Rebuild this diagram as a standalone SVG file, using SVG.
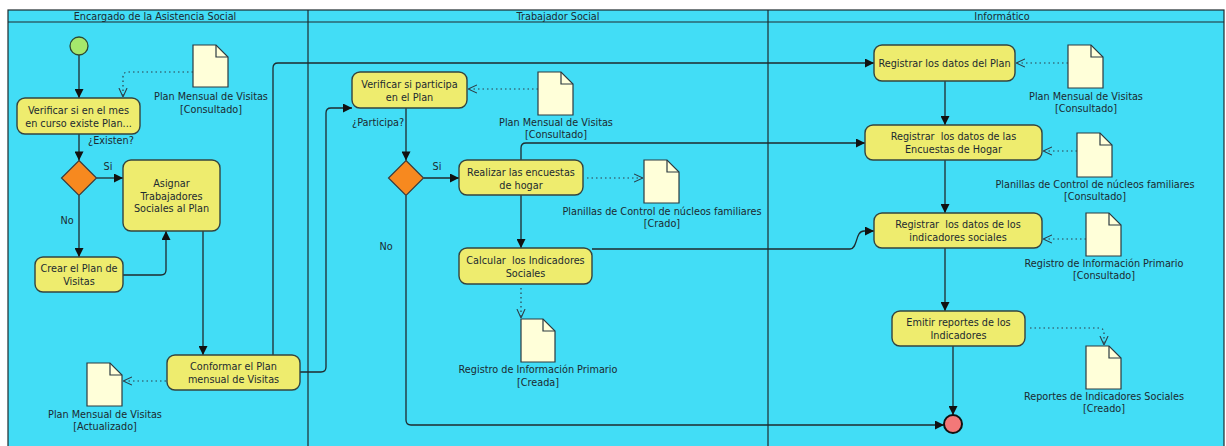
<svg xmlns="http://www.w3.org/2000/svg" width="1226" height="446" viewBox="0 0 1226 446">
  <style>
    text { font-family: "DejaVu Sans", "Liberation Sans", sans-serif; font-size: 9.7px; fill: #1c2a30; white-space: pre; }
    .mid { text-anchor: middle; }
    .lane { fill: #42DDF6; stroke: #1e2a2e; stroke-width: 1.2; }
    .act { fill: #EEEC6E; stroke: #34443f; stroke-width: 1.4; }
    .doc { fill: #FFFFD9; stroke: #2c3a40; stroke-width: 1.2; }
    .dec { fill: #F7891F; stroke: #3b3b3b; stroke-width: 1.2; }
    .flow { fill: none; stroke: #1f2a2e; stroke-width: 1.3; marker-end: url(#arrow); }
    .dep { fill: none; stroke: #2c3e48; stroke-width: 1.2; stroke-dasharray: 1.5 3; marker-end: url(#open); }
  </style>
  <defs>
    <marker id="arrow" viewBox="0 0 10 10" refX="10" refY="5" markerWidth="10" markerHeight="9" markerUnits="userSpaceOnUse" orient="auto">
      <path d="M0,0 L10,5 L0,10 z" fill="#111"/>
    </marker>
    <marker id="open" viewBox="0 0 10 10" refX="10" refY="5" markerWidth="9" markerHeight="11" markerUnits="userSpaceOnUse" orient="auto">
      <path d="M0,0.5 L10,5 L0,9.5" fill="none" stroke="#2c3e48" stroke-width="1.2"/>
    </marker>
  </defs>

  <rect width="1226" height="446" fill="#ffffff"/>

  <!-- swimlanes -->
  <g id="lanes">
    <rect class="lane" x="8" y="10" width="1216" height="446"/>
    <line x1="8" y1="22" x2="1224" y2="22" stroke="#1e2a2e" stroke-width="1.2"/>
    <line x1="308" y1="10" x2="308" y2="446" stroke="#1e2a2e" stroke-width="1.2"/>
    <line x1="768" y1="10" x2="768" y2="446" stroke="#1e2a2e" stroke-width="1.2"/>
    <text class="mid" x="155" y="20">Encargado de la Asistencia Social</text>
    <text class="mid" x="558" y="20">Trabajador Social</text>
    <text class="mid" x="1002" y="20">Informático</text>
  </g>

  <!-- control and object flows -->
  <g id="connectors">
    <path class="flow" d="M79,55 V98"/>
    <path class="flow" d="M79,134 V160.5"/>
    <path class="flow" d="M96.5,178 H123"/>
    <path class="flow" d="M79,195.5 V257"/>
    <path class="flow" d="M123,275 H161 Q166,275 166,270 V231"/>
    <path class="flow" d="M203,231 V355"/>
    <path class="flow" d="M273,355 V68 Q273,63 278,63 H874"/>
    <path class="flow" d="M300,372 H321 Q326,372 326,367 V113 Q326,108 331,108 H352"/>
    <path class="flow" d="M406,108 V160.5"/>
    <path class="flow" d="M423.5,178 H459"/>
    <path class="flow" d="M406,195.5 V420 Q406,425 411,425 H944"/>
    <path class="flow" d="M521,195 V248"/>
    <path class="flow" d="M521,160 V148 Q521,143 526,143 H865"/>
    <path class="flow" d="M592,249 H850 C858,249 855,231 864,231 H874"/>
    <path class="flow" d="M945,81 V125"/>
    <path class="flow" d="M945,160 V213"/>
    <path class="flow" d="M945,248 V311"/>
    <path class="flow" d="M953,346 V415"/>

    <path class="dep" d="M193,72 H128 Q123,72 123,77 V97"/>
    <path class="dep" d="M166,381 H123"/>
    <path class="dep" d="M538,89 H468"/>
    <path class="dep" d="M587,178 H643"/>
    <path class="dep" d="M521,288 V318"/>
    <path class="dep" d="M1068,63 H1016"/>
    <path class="dep" d="M1077,151 H1043"/>
    <path class="dep" d="M1086,239 H1043"/>
    <path class="dep" d="M1030,328 H1099 Q1104,328 1104,333 V345"/>
  </g>

  <!-- guard labels -->
  <g id="guards">
    <text x="88" y="144">¿Existen?</text>
    <text class="mid" x="108" y="170">Si</text>
    <text class="mid" x="67" y="224">No</text>
    <text x="352" y="126">¿Participa?</text>
    <text class="mid" x="437" y="170">Si</text>
    <text class="mid" x="386" y="250">No</text>
  </g>

  <!-- Encargado de la Asistencia Social -->
  <g id="start">
    <circle cx="79" cy="46" r="9" fill="#A5E86C" stroke="#2d4a33" stroke-width="1.3"/>
  </g>
  <g id="verificar-plan">
    <rect class="act" x="17" y="98" width="123" height="36" rx="8"/>
    <text class="mid" x="78.5" y="114">Verificar si en el mes</text>
    <text class="mid" x="78.5" y="126.5">en curso existe Plan...</text>
  </g>
  <g id="doc-plan-consultado-1">
    <path class="doc" d="M193,45 H216 L228,57 V87 H193 Z"/>
    <path d="M216,45 V57 H228" fill="none" stroke="#2c3a40" stroke-width="1.2"/>
    <text class="mid" x="211" y="100">Plan Mensual de Visitas</text>
    <text class="mid" x="211" y="113">[Consultado]</text>
  </g>
  <g id="decision-existen">
    <polygon class="dec" points="79,160.5 96.5,178 79,195.5 61.5,178"/>
  </g>
  <g id="asignar">
    <rect class="act" x="123" y="160" width="97" height="71" rx="8"/>
    <text class="mid" x="171.5" y="187">Asignar</text>
    <text class="mid" x="171.5" y="199.5">Trabajadores</text>
    <text class="mid" x="171.5" y="212">Sociales al Plan</text>
  </g>
  <g id="crear-plan">
    <rect class="act" x="35" y="257" width="88" height="35" rx="8"/>
    <text class="mid" x="79" y="272">Crear el Plan de</text>
    <text class="mid" x="79" y="284.5">Visitas</text>
  </g>
  <g id="conformar">
    <rect class="act" x="167" y="355" width="133" height="35" rx="8"/>
    <text class="mid" x="233.5" y="370">Conformar el Plan</text>
    <text class="mid" x="233.5" y="382.5">mensual de Visitas</text>
  </g>
  <g id="doc-plan-actualizado">
    <path class="doc" d="M87,363 H110 L122,375 V406 H87 Z"/>
    <path d="M110,363 V375 H122" fill="none" stroke="#2c3a40" stroke-width="1.2"/>
    <text class="mid" x="105" y="418">Plan Mensual de Visitas</text>
    <text class="mid" x="105" y="430">[Actualizado]</text>
  </g>

  <!-- Trabajador Social -->
  <g id="verificar-participa">
    <rect class="act" x="352" y="72" width="115" height="36" rx="8"/>
    <text class="mid" x="409.5" y="88">Verificar si participa</text>
    <text class="mid" x="409.5" y="100.5">en el Plan</text>
  </g>
  <g id="doc-plan-consultado-2">
    <path class="doc" d="M538,72 H561 L573,84 V115 H538 Z"/>
    <path d="M561,72 V84 H573" fill="none" stroke="#2c3a40" stroke-width="1.2"/>
    <text class="mid" x="556" y="126">Plan Mensual de Visitas</text>
    <text class="mid" x="556" y="138">[Consultado]</text>
  </g>
  <g id="decision-participa">
    <polygon class="dec" points="406,160.5 423.5,178 406,195.5 388.5,178"/>
  </g>
  <g id="realizar-encuestas">
    <rect class="act" x="459" y="160" width="124" height="35" rx="8"/>
    <text class="mid" x="521" y="176">Realizar las encuestas</text>
    <text class="mid" x="521" y="188.5">de hogar</text>
  </g>
  <g id="doc-planillas-creado">
    <path class="doc" d="M644,160 H667 L679,172 V203 H644 Z"/>
    <path d="M667,160 V172 H679" fill="none" stroke="#2c3a40" stroke-width="1.2"/>
    <text class="mid" x="662" y="215">Planillas de Control de núcleos familiares</text>
    <text class="mid" x="662" y="227">[Crado]</text>
  </g>
  <g id="calcular-indicadores">
    <rect class="act" x="459" y="248" width="133" height="36" rx="8"/>
    <text class="mid" x="525.5" y="264" xml:space="preserve">Calcular  los Indicadores</text>
    <text class="mid" x="525.5" y="276.5">Sociales</text>
  </g>
  <g id="doc-registro-creada">
    <path class="doc" d="M521,319 H543 L555,331 V362 H521 Z"/>
    <path d="M543,319 V331 H555" fill="none" stroke="#2c3a40" stroke-width="1.2"/>
    <text class="mid" x="538" y="373">Registro de Información Primario</text>
    <text class="mid" x="538" y="386">[Creada]</text>
  </g>

  <!-- Informático -->
  <g id="registrar-plan">
    <rect class="act" x="874" y="45" width="141" height="36" rx="8"/>
    <text class="mid" x="944.5" y="67">Registrar los datos del Plan</text>
  </g>
  <g id="doc-plan-consultado-3">
    <path class="doc" d="M1068,45 H1091 L1103,57 V88 H1068 Z"/>
    <path d="M1091,45 V57 H1103" fill="none" stroke="#2c3a40" stroke-width="1.2"/>
    <text class="mid" x="1086" y="100">Plan Mensual de Visitas</text>
    <text class="mid" x="1086" y="112">[Consultado]</text>
  </g>
  <g id="registrar-encuestas">
    <rect class="act" x="865" y="125" width="177" height="35" rx="8"/>
    <text class="mid" x="953.5" y="140" xml:space="preserve">Registrar  los datos de las</text>
    <text class="mid" x="953.5" y="152.5">Encuestas de Hogar</text>
  </g>
  <g id="doc-planillas-consultado">
    <path class="doc" d="M1077,133 H1100 L1112,145 V177 H1077 Z"/>
    <path d="M1100,133 V145 H1112" fill="none" stroke="#2c3a40" stroke-width="1.2"/>
    <text class="mid" x="1095" y="188">Planillas de Control de núcleos familiares</text>
    <text class="mid" x="1095" y="200">[Consultado]</text>
  </g>
  <g id="registrar-indicadores">
    <rect class="act" x="874" y="213" width="168" height="35" rx="8"/>
    <text class="mid" x="958" y="228" xml:space="preserve">Registrar  los datos de los</text>
    <text class="mid" x="958" y="240.5">indicadores sociales</text>
  </g>
  <g id="doc-registro-consultado">
    <path class="doc" d="M1086,213 H1109 L1121,225 V256 H1086 Z"/>
    <path d="M1109,213 V225 H1121" fill="none" stroke="#2c3a40" stroke-width="1.2"/>
    <text class="mid" x="1104" y="267">Registro de Información Primario</text>
    <text class="mid" x="1104" y="279">[Consultado]</text>
  </g>
  <g id="emitir-reportes">
    <rect class="act" x="892" y="311" width="133" height="35" rx="8"/>
    <text class="mid" x="958.5" y="326">Emitir reportes de los</text>
    <text class="mid" x="958.5" y="338.5">Indicadores</text>
  </g>
  <g id="doc-reportes-creado">
    <path class="doc" d="M1086,346 H1109 L1121,358 V389 H1086 Z"/>
    <path d="M1109,346 V358 H1121" fill="none" stroke="#2c3a40" stroke-width="1.2"/>
    <text class="mid" x="1104" y="400">Reportes de Indicadores Sociales</text>
    <text class="mid" x="1104" y="412">[Creado]</text>
  </g>
  <g id="end">
    <circle cx="953" cy="424" r="9" fill="#F37878" stroke="#111" stroke-width="2"/>
  </g>
</svg>
